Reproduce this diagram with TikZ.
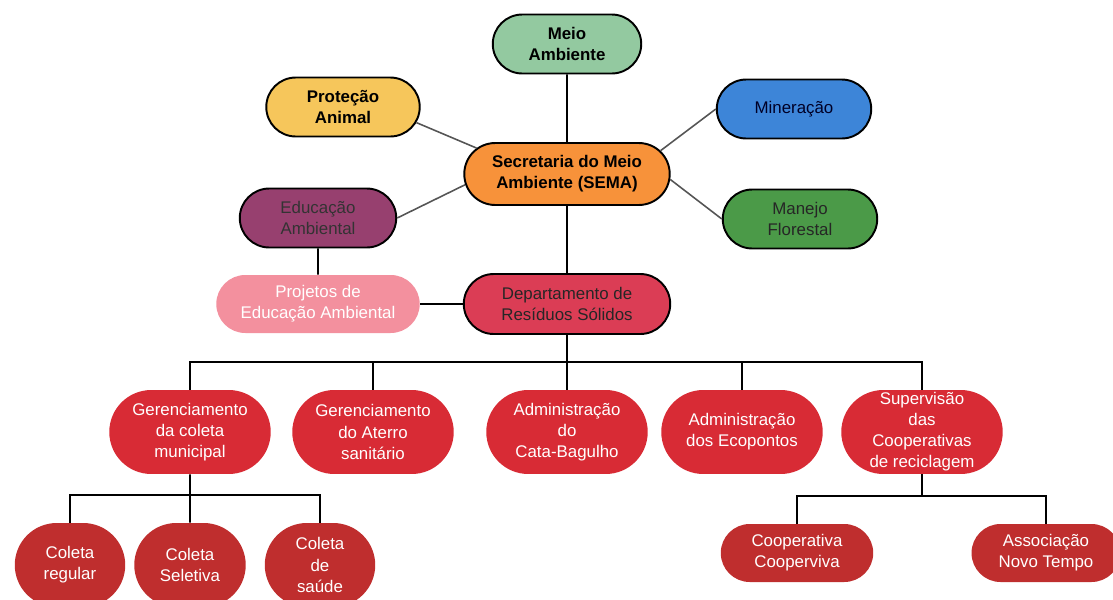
\documentclass[tikz,border=0pt]{standalone}
\usepackage{fontspec}
\setmainfont{Liberation Sans}
\usetikzlibrary{shapes.misc}
\definecolor{meio-green}{HTML}{93C9A0}
\definecolor{prot-yellow}{HTML}{F6C65B}
\definecolor{min-blue}{HTML}{3D85D8}
\definecolor{manejo-green}{HTML}{4B9A48}
\definecolor{sema-orange}{HTML}{F7923A}
\definecolor{edu-purple}{HTML}{97406F}
\definecolor{proj-pink}{HTML}{F3909E}
\definecolor{dep-red}{HTML}{DB3D55}
\definecolor{sub-red}{HTML}{D82B35}
\definecolor{leaf-red}{HTML}{BF2E2E}
\definecolor{link-gray}{HTML}{555555}

\begin{document}
\begin{tikzpicture}[
    x=0.02cm, y=-0.02cm,
    pill/.style={rounded rectangle, align=center, inner sep=1pt,
        font=\fontsize{9.6}{12}\selectfont},
    topbox/.style={pill, draw=black, line width=1.1pt, minimum width=3.16cm, minimum height=1.18cm},
    subbox/.style={pill, fill=sub-red, text=white, minimum width=3.3cm, minimum height=1.68cm},
    leafbox/.style={pill, fill=leaf-red, text=white, minimum height=1.68cm},
    tree/.style={black, line width=1.1pt},
    spoke/.style={link-gray, line width=0.9pt},
]
    \clip (0,0) rectangle (1113,599);

    % Top level
    \node[topbox, fill=meio-green, font=\fontsize{9.6}{12}\selectfont\bfseries, minimum width=3.04cm] (meio) at (567,44) {Meio\\Ambiente};
    \node[topbox, fill=prot-yellow, font=\fontsize{9.6}{12}\selectfont\bfseries, minimum width=3.14cm] (prot) at (343,107) {Proteção\\Animal};
    \node[topbox, fill=min-blue, text=black!85!blue] (miner) at (794,109) {Mineração};
    \node[topbox, fill=manejo-green, text=black!85] (manejo) at (800,219) {Manejo\\Florestal};
    \node[topbox, fill=sema-orange, font=\fontsize{9.6}{12}\selectfont\bfseries,
          minimum width=4.18cm, minimum height=1.24cm] (sema) at (567,174) {Secretaria do Meio\\Ambiente (SEMA)};
    \node[topbox, fill=edu-purple, text=black!80, minimum width=3.2cm] (edu) at (318,218) {Educação\\Ambiental};

    % Department and projects
    \node[pill, fill=proj-pink, text=white, minimum width=4.14cm, minimum height=1.16cm] (proj) at (318,304) {Projetos de\\Educação Ambiental};
    \node[topbox, fill=dep-red, text=black!85, minimum width=4.2cm, minimum height=1.2cm] (dep) at (567,304) {Departamento de\\Resíduos Sólidos};

    % Spokes from SEMA
    \draw[tree] (meio) -- (sema);
    \draw[spoke] (prot.-12) -- (sema.164);
    \draw[spoke] (edu.east) -- (sema.-174);
    \draw[spoke] (miner.west) -- (sema.14);
    \draw[spoke] (manejo.west) -- (sema.-3);
    \draw[tree] (sema) -- (dep);
    \draw[tree] (edu) -- (proj);
    \draw[tree] (proj) -- (dep);

    % Second row
    \node[subbox] (gcol) at (190,432) {Gerenciamento\\da coleta\\municipal};
    \node[subbox] (gat) at (373,432) {Gerenciamento\\do Aterro\\sanitário};
    \node[subbox] (cata) at (567,432) {Administração\\do\\Cata-Bagulho};
    \node[subbox] (eco) at (742,432) {Administração\\dos Ecopontos};
    \node[subbox] (sup) at (922,432) {Supervisão\\das\\Cooperativas\\de reciclagem};

    \coordinate (bus) at (567,362);
    \draw[tree] (dep) -- (bus);
    \draw[tree] (gcol.north) -- (gcol.north |- bus) -- (sup.north |- bus) -- (sup.north);
    \foreach \n in {gat, cata, eco}
        \draw[tree] (\n.north) -- (\n.north |- bus);

    % Collection types
    \node[leafbox, minimum width=2.28cm] (creg) at (70,565) {Coleta\\regular};
    \node[leafbox, minimum width=2.3cm] (csel) at (190,565) {Coleta\\Seletiva};
    \node[leafbox, minimum width=2.28cm] (csau) at (320,565) {Coleta\\de\\saúde};

    \coordinate (busc) at (190,495);
    \draw[tree] (gcol) -- (csel);
    \draw[tree] (creg.north) -- (creg.north |- busc) -- (csau.north |- busc) -- (csau.north);

    % Cooperatives
    \node[pill, fill=leaf-red, text=white, minimum width=3.12cm, minimum height=1.16cm] (coop) at (797,553) {Cooperativa\\Cooperviva};
    \node[pill, fill=leaf-red, text=white, minimum width=3.05cm, minimum height=1.16cm] (assoc) at (1046,553) {Associação\\Novo Tempo};

    \coordinate (busr) at (922,496);
    \draw[tree] (sup.south) -- (busr);
    \draw[tree] (coop.north) -- (coop.north |- busr) -- (assoc.north |- busr) -- (assoc.north);

\end{tikzpicture}
\end{document}
